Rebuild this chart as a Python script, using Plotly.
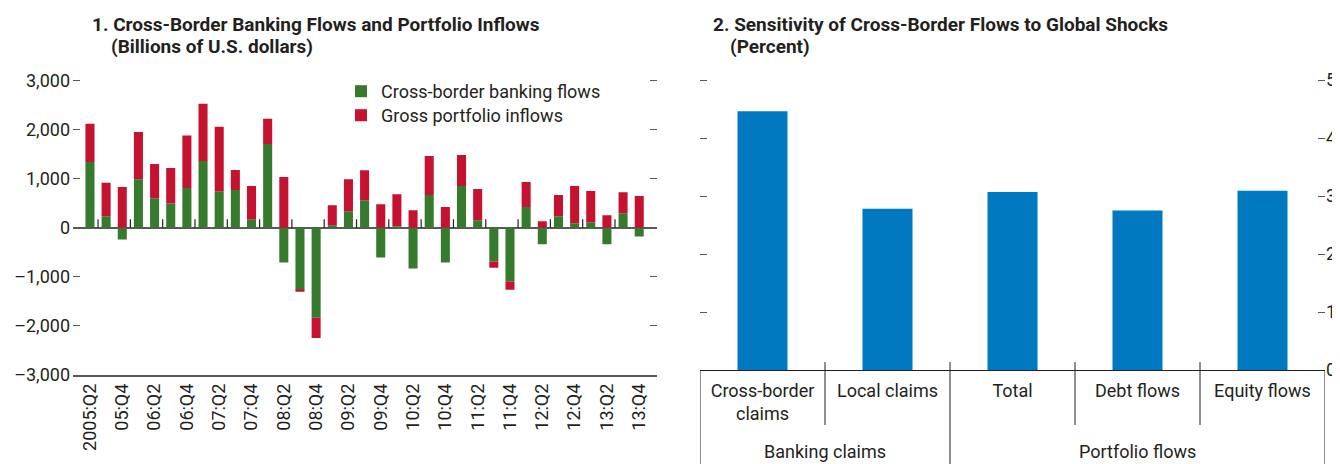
import plotly.graph_objects as go

### data
quarters = ["2005:Q2", "2005:Q3", "2005:Q4", "2006:Q1", "2006:Q2", "2006:Q3", "2006:Q4",
            "2007:Q1", "2007:Q2", "2007:Q3", "2007:Q4", "2008:Q1", "2008:Q2", "2008:Q3",
            "2008:Q4", "2009:Q1", "2009:Q2", "2009:Q3", "2009:Q4", "2010:Q1", "2010:Q2",
            "2010:Q3", "2010:Q4", "2011:Q1", "2011:Q2", "2011:Q3", "2011:Q4", "2012:Q1",
            "2012:Q2", "2012:Q3", "2012:Q4", "2013:Q1", "2013:Q2", "2013:Q3", "2013:Q4"]
banking = [1340, 235, -240, 990, 600, 495, 810, 1360, 745, 770, 170, 1710, -710, -1265,
           -1840, 50, 335, 560, -610, 30, -835, 665, -710, 850, 150, -690, -1100, 420,
           -340, 235, 90, 110, -340, 295, -180]
portfolio = [780, 680, 830, 965, 700, 725, 1070, 1170, 1315, 410, 680, 515, 1035, -40,
             -410, 410, 655, 615, 480, 655, 355, 800, 420, 635, 640, -125, -165, 515,
             130, 430, 760, 640, 255, 430, 645]
tick_quarters = quarters[::2]
tick_text = ["2005:Q2", "05:Q4", "06:Q2", "06:Q4", "07:Q2", "07:Q4", "08:Q2", "08:Q4",
             "09:Q2", "09:Q4", "10:Q2", "10:Q4", "11:Q2", "11:Q4", "12:Q2", "12:Q4",
             "13:Q2", "13:Q4"]
y1_vals = [3000, 2000, 1000, 0, -1000, -2000, -3000]
y1_text = ["3,000", "2,000", "1,000", "0", "\u20131,000", "\u20132,000", "\u20133,000"]

groups = ["Banking claims", "Banking claims", "Portfolio flows", "Portfolio flows", "Portfolio flows"]
measures = ["Cross-border<br>claims", "Local claims", "Total", "Debt flows", "Equity flows"]
sensitivity = [4.46, 2.78, 3.07, 2.75, 3.09]

FONT = "Roboto, sans-serif"
TXT = "#231f20"
AX = "#58595b"
# the page body adds an 8px margin, so the figure is laid out in reference pixels minus 8
OFF = 8
W, H = 1332, 456


def px(x):
    return (x - OFF) / W


def py(y):
    return 1 - (y - OFF) / H


fig = go.Figure()
fig.add_bar(x=quarters, y=banking, name="Cross-border banking flows", legend="legend",
            marker=dict(color="#357a2d", line=dict(width=0)), width=0.56)
fig.add_bar(x=quarters, y=portfolio, name="Gross portfolio inflows", legend="legend2",
            marker=dict(color="#c41230", line=dict(width=0)), width=0.56)
fig.add_bar(x=measures, y=sensitivity, xaxis="x2", yaxis="y2",
            marker=dict(color="#0079c1", line=dict(width=0)), width=0.4, showlegend=False)

leg = dict(x=px(341), xanchor="left", yanchor="top", bgcolor="rgba(0,0,0,0)",
           font=dict(size=18), itemwidth=30)

fig.update_layout(
    width=W, height=H, margin=dict(l=0, r=0, t=0, b=0, autoexpand=False),
    paper_bgcolor="white", plot_bgcolor="white",
    barmode="relative",
    font=dict(family=FONT, size=18, color=TXT),
    legend=dict(leg, y=py(73)),
    legend2=dict(leg, y=py(97)),
    xaxis=dict(domain=[px(73), px(657)], anchor="y", type="category",
               range=[-1.05, 35.1], tickmode="array", tickvals=tick_quarters,
               ticktext=tick_text, tickangle=-90, ticks="", showline=True,
               linecolor=AX, linewidth=1.5, showgrid=False,
               tickfont=dict(size=18)),
    yaxis=dict(domain=[py(374.7), py(80.7 - 2.45)], anchor="x", range=[-3000, 3050],
               tickmode="array", tickvals=y1_vals, ticktext=y1_text,
               ticks="inside", ticklen=7, tickcolor=AX, tickwidth=1.2, mirror="ticks",
               showline=False, showgrid=False, zeroline=True, ticklabelstandoff=2,
               zerolinecolor=AX, zerolinewidth=1.5, tickfont=dict(size=18)),
    xaxis2=dict(domain=[px(700), px(1325)], anchor="y2", type="category",
                range=[-0.5, len(measures) - 0.5],
                showline=True, linecolor=TXT, linewidth=1, ticks="",
                ticklabelstandoff=4, showgrid=False, tickfont=dict(size=18)),
    yaxis2=dict(domain=[py(370), py(80 - 2.9)], anchor="x2", side="right",
                range=[0, 5.05], tickmode="array", tickvals=[0, 1, 2, 3, 4, 5],
                ticks="inside", ticklen=7, tickcolor=AX, tickwidth=1.2,
                mirror="ticks", showline=False, showgrid=False, zeroline=False,
                tickfont=dict(size=18)),
)

# small marks on the zero line between pairs of quarters
for i in range(0, len(quarters) - 1, 2):
    fig.add_shape(type="line", xref="x", yref="y", x0=i + 0.5, x1=i + 0.5, y0=0, y1=170,
                  line=dict(color=TXT, width=1.2))

# category box of panel 2: outer edges, sub-dividers and group dividers
edge = dict(color=TXT, width=1)
for b in (-0.5, len(measures) - 0.5):
    fig.add_shape(type="line", xref="x2", yref="paper", x0=b, x1=b,
                  y0=py(370), y1=py(470), line=edge)
for i in range(len(measures) - 1):
    b = i + 0.5
    bottom = 470 if groups[i] != groups[i + 1] else 425
    fig.add_shape(type="line", xref="x2", yref="paper", x0=b, x1=b,
                  y0=py(362), y1=py(bottom), line=edge)

# group labels
for g in dict.fromkeys(groups):
    idx = [i for i, name in enumerate(groups) if name == g]
    fig.add_annotation(text=g, x=sum(idx) / len(idx), y=py(451), xref="x2", yref="paper",
                       xanchor="center", yanchor="middle", showarrow=False,
                       font=dict(size=18))

# titles
titles = [("<b>1. Cross-Border Banking Flows and Portfolio Inflows</b>", 90, 24),
          ("<b>(Billions of U.S. dollars)</b>", 109, 47),
          ("<b>2. Sensitivity of Cross-Border Flows to Global Shocks</b>", 711, 24),
          ("<b>(Percent)</b>", 728, 47)]
for text, tx, ty in titles:
    fig.add_annotation(text=text, x=px(tx), y=py(ty), xref="paper", yref="paper",
                       xanchor="left", yanchor="middle", showarrow=False,
                       font=dict(size=19))

fig.write_html("out.html")
